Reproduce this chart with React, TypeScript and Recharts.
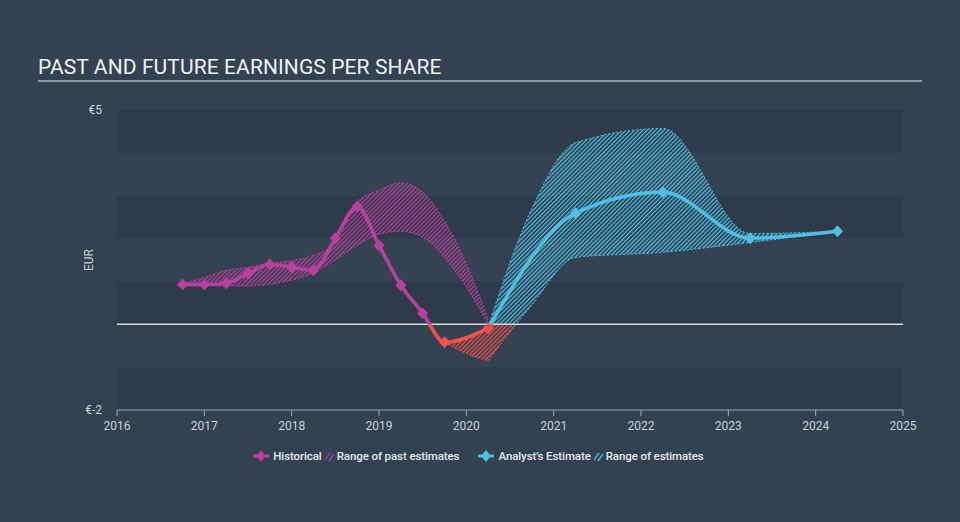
import React from 'react';
import { ComposedChart, Line, Area, XAxis, YAxis, ReferenceArea, ReferenceLine } from 'recharts';

const W = 960;
const H = 522;
const PLOT_TOP = 110;
const PLOT_BOTTOM = 410;
const Y_MIN = -2;
const Y_MAX = 5;
const ZERO_AT = Y_MAX / (Y_MAX - Y_MIN);

const MAGENTA = '#b8409f';
const RED = '#f4514b';
const BLUE = '#4fbfe3';
const FONT = 'Roboto, "Noto Sans", sans-serif';

// historical EPS (quarterly)
const HIST_YEARS = [2016.75, 2017, 2017.25, 2017.5, 2017.75, 2018, 2018.25, 2018.5, 2018.75, 2019, 2019.25, 2019.5, 2019.75, 2020.25];
const HIST_EPS = [0.93, 0.93, 0.96, 1.19, 1.4, 1.33, 1.26, 2.01, 2.75, 1.84, 0.91, 0.26, -0.42, -0.09];

// range of past estimates
const PAST_YEARS = [2016.75, 2017, 2017.25, 2017.5, 2017.75, 2018, 2018.25, 2018.5, 2018.75, 2019, 2019.25, 2019.5, 2019.75, 2020, 2020.25];
const PAST_LOW = [0.93, 0.91, 0.89, 0.89, 0.93, 1.03, 1.19, 1.5, 1.84, 2.1, 2.17, 2.03, 1.55, 0.86, 0.0];
const PAST_HIGH = [0.93, 1.1, 1.26, 1.33, 1.42, 1.49, 1.61, 1.91, 2.85, 3.13, 3.3, 3.08, 2.42, 1.42, 0.12];

// negative part of past estimates
const NEG_YEARS = [2019.75, 2020, 2020.25];
const NEG_LOW = [-0.42, -0.68, -0.85];
const NEG_HIGH = [-0.42, -0.28, -0.09];

// analyst estimates
const EST_YEARS = [2020.25, 2021.25, 2022.25, 2023.25, 2024.25];
const EST_EPS = [-0.09, 2.59, 3.08, 2.01, 2.17];
const BAND_YEARS = [2020.25, 2020.75, 2021.25, 2022.25, 2023.25, 2024.25];
const EST_LOW = [-0.85, 0.45, 1.56, 1.68, 1.91, 2.17];
const EST_HIGH = [-0.05, 2.7, 4.24, 4.57, 2.12, 2.17];

const X_TICKS = [2016, 2017, 2018, 2019, 2020, 2021, 2022, 2023, 2024, 2025];
const Y_TICKS = [-2, 5];
const BAND_EDGES = [-2, -1, 0, 1, 2, 3, 4, 5];

type Row = { year: number; [k: string]: number };

const buildData = () => {
  const rows = new Map<number, Row>();
  const put = (year: number, key: string, v: number) => {
    if (!rows.has(year)) rows.set(year, { year });
    rows.get(year)![key] = v;
  };
  HIST_YEARS.forEach((y, i) => put(y, 'hist', HIST_EPS[i]));
  PAST_YEARS.forEach((y, i) => { put(y, 'pastLow', PAST_LOW[i]); put(y, 'pastHigh', PAST_HIGH[i]); });
  NEG_YEARS.forEach((y, i) => { put(y, 'negLow', NEG_LOW[i]); put(y, 'negHigh', NEG_HIGH[i]); });
  EST_YEARS.forEach((y, i) => put(y, 'est', EST_EPS[i]));
  BAND_YEARS.forEach((y, i) => { put(y, 'estLow', EST_LOW[i]); put(y, 'estHigh', EST_HIGH[i]); });
  return Array.from(rows.values()).sort((a, b) => a.year - b.year);
};

const data = buildData();

const range = (lo: string, hi: string) => (d: Row) =>
  d[lo] == null ? null : [d[lo], d[hi]];

const Diamond = ({ cx, cy, fill }: { cx: number; cy: number; fill: string }) => (
  <path d={`M${cx},${cy - 6}L${cx + 5.5},${cy}L${cx},${cy + 6}L${cx - 5.5},${cy}Z`} fill={fill} />
);

const histDot = (p: any) => {
  if (p.cy == null || p.value == null) return <g key={p.key ?? p.index} />;
  return <Diamond key={p.key ?? p.index} cx={p.cx} cy={p.cy} fill={p.value < 0 ? RED : MAGENTA} />;
};

const estDot = (p: any) => {
  if (p.cy == null || p.value == null || p.payload?.year === EST_YEARS[0]) return <g key={p.key ?? p.index} />;
  return <Diamond key={p.key ?? p.index} cx={p.cx} cy={p.cy} fill={BLUE} />;
};

const HatchIcon = ({ color }: { color: string }) => (
  <svg width="9" height="11" style={{ marginRight: 3 }}>
    <line x1="0" y1="9" x2="5" y2="2" stroke={color} strokeWidth="1.3" />
    <line x1="4" y1="10" x2="9" y2="3" stroke={color} strokeWidth="1.3" />
  </svg>
);

const DiamondIcon = ({ color }: { color: string }) => (
  <svg width="16" height="12" style={{ marginRight: 4 }}>
    <line x1="0" y1="6" x2="16" y2="6" stroke={color} strokeWidth="3" />
    <path d="M8,0L13,6L8,12L3,6Z" fill={color} />
  </svg>
);

const legendText: React.CSSProperties = { color: '#e6e9ec', fontSize: 11.5, fontWeight: 500, marginRight: 3, letterSpacing: -0.1 };

export default function App() {
  return (
    <div style={{ position: 'absolute', left: 0, top: 0, width: W, height: H, background: '#334151', fontFamily: FONT, overflow: 'hidden' }}>
      <div
        style={{
          position: 'absolute', left: 38, top: 55, width: 884, color: '#f0f2f4', fontSize: 21,
          paddingBottom: 1, borderBottom: '2px solid #8e979f', lineHeight: '24px', letterSpacing: 0.1,
        }}
      >
        PAST AND FUTURE EARNINGS PER SHARE
      </div>
      <ComposedChart
        width={W}
        height={H}
        data={data}
        margin={{ top: PLOT_TOP, right: 57, bottom: H - PLOT_BOTTOM - 30, left: 38 }}
        style={{ position: 'absolute', left: 0, top: 0 }}
      >
        <defs>
          <linearGradient id="magRed" gradientUnits="userSpaceOnUse" x1="0" y1={PLOT_TOP} x2="0" y2={PLOT_BOTTOM}>
            <stop offset={ZERO_AT} stopColor={MAGENTA} />
            <stop offset={ZERO_AT} stopColor={RED} />
          </linearGradient>
          <linearGradient id="blueRed" gradientUnits="userSpaceOnUse" x1="0" y1={PLOT_TOP} x2="0" y2={PLOT_BOTTOM}>
            <stop offset={ZERO_AT} stopColor={BLUE} />
            <stop offset={ZERO_AT} stopColor={RED} />
          </linearGradient>
          <pattern id="hatch" width="3" height="3" patternUnits="userSpaceOnUse" patternTransform="rotate(45)">
            <rect x="0" y="0" width="1.25" height="3" fill="#fff" />
          </pattern>
          <mask id="hatchMask" maskUnits="userSpaceOnUse" x="0" y="0" width={W} height={H}>
            <rect x="0" y="0" width={W} height={H} fill="url(#hatch)" />
          </mask>
        </defs>

        {BAND_EDGES.slice(0, -1).map((lo, i) => (
          <ReferenceArea
            key={lo}
            y1={lo}
            y2={BAND_EDGES[i + 1]}
            fill={i % 2 === 0 ? '#2f3b4a' : '#354252'}
            fillOpacity={1}
            stroke="none"
          />
        ))}

        <XAxis
          type="number"
          dataKey="year"
          domain={[2016, 2025]}
          ticks={X_TICKS}
          interval={0}
          stroke="#a3abb3"
          tickSize={6}
          tickMargin={5}
          tick={{ fill: '#cdd2d7', fontSize: 12, fontFamily: FONT }}
        />
        <YAxis
          type="number"
          domain={[Y_MIN, Y_MAX]}
          ticks={Y_TICKS}
          width={79}
          axisLine={false}
          tickLine={false}
          tickSize={0}
          tickMargin={15}
          tickFormatter={(v: number) => `€${v}`}
          tick={{ fill: '#cdd2d7', fontSize: 12, fontFamily: FONT }}
          label={{ value: 'EUR', angle: -90, position: 'insideLeft', offset: 51, textAnchor: 'middle', fill: '#cdd2d7', fontSize: 12, fontFamily: FONT }}
        />
        <ReferenceLine y={0} stroke="#d3d7db" strokeWidth={1.5} />

        <Area type="monotone" dataKey={range('pastLow', 'pastHigh')} fill="url(#magRed)" fillOpacity={1} stroke="none" mask="url(#hatchMask)" connectNulls isAnimationActive={false} />
        <Area type="monotone" dataKey={range('pastLow', 'pastHigh')} fill="none" stroke="url(#magRed)" strokeWidth={1} strokeDasharray="2 2" connectNulls isAnimationActive={false} />
        <Area type="monotone" dataKey={range('negLow', 'negHigh')} fill="url(#magRed)" fillOpacity={1} stroke="none" mask="url(#hatchMask)" connectNulls isAnimationActive={false} />
        <Area type="monotone" dataKey={range('negLow', 'negHigh')} fill="none" stroke="url(#magRed)" strokeWidth={1} strokeDasharray="2 2" connectNulls isAnimationActive={false} />
        <Area type="monotone" dataKey={range('estLow', 'estHigh')} fill="url(#blueRed)" fillOpacity={1} stroke="none" mask="url(#hatchMask)" connectNulls isAnimationActive={false} />
        <Area type="monotone" dataKey={range('estLow', 'estHigh')} fill="none" stroke="url(#blueRed)" strokeWidth={1} strokeDasharray="2 2" connectNulls isAnimationActive={false} />

        <Line type="monotone" dataKey="est" stroke="url(#blueRed)" strokeWidth={3.5} dot={estDot} activeDot={false} connectNulls isAnimationActive={false} />
        <Line type="monotone" dataKey="hist" stroke="url(#magRed)" strokeWidth={3.5} dot={histDot} activeDot={false} connectNulls isAnimationActive={false} />
      </ComposedChart>

      <div style={{ position: 'absolute', left: 0, top: 449, width: W, display: 'flex', justifyContent: 'center', alignItems: 'center' }}>
        <div style={{ display: 'flex', alignItems: 'center', marginRight: 16 }}>
          <DiamondIcon color={MAGENTA} />
          <span style={legendText}>Historical</span>
          <HatchIcon color={MAGENTA} />
          <span style={legendText}>Range of past estimates</span>
        </div>
        <div style={{ display: 'flex', alignItems: 'center' }}>
          <DiamondIcon color={BLUE} />
          <span style={legendText}>Analyst's Estimate</span>
          <HatchIcon color={BLUE} />
          <span style={legendText}>Range of estimates</span>
        </div>
      </div>
    </div>
  );
}
